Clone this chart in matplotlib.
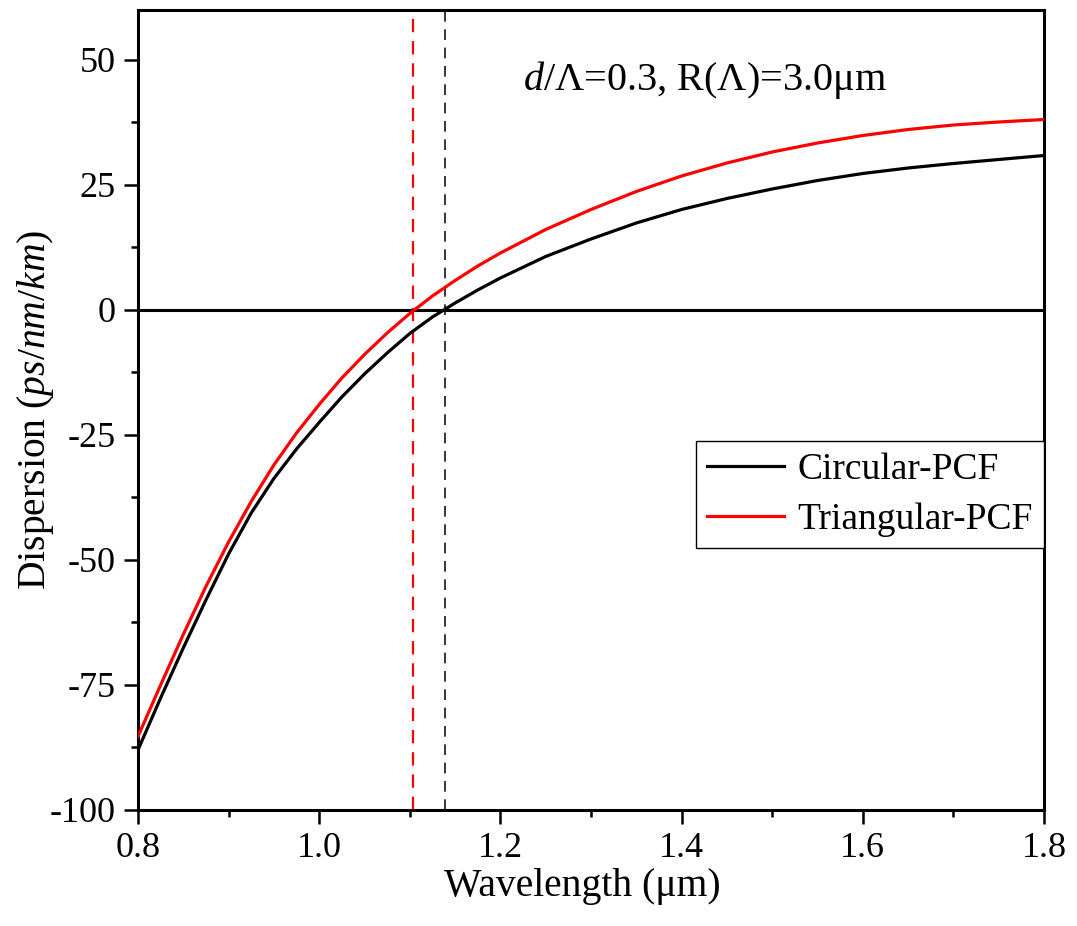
import matplotlib
matplotlib.use('Agg')
import matplotlib.pyplot as plt

plt.rcParams['font.family'] = ['Liberation Serif', 'DejaVu Serif']
plt.rcParams['mathtext.fontset'] = 'custom'
plt.rcParams['mathtext.rm'] = 'Liberation Serif'
plt.rcParams['mathtext.it'] = 'Liberation Serif:italic'
plt.rcParams['axes.unicode_minus'] = False

# Données
longueur_onde = [0.800, 0.825, 0.850, 0.875, 0.900, 0.925, 0.950, 0.975, 1.000, 1.025,
                 1.050, 1.075, 1.100, 1.125, 1.150, 1.175, 1.200, 1.250, 1.300, 1.350,
                 1.400, 1.450, 1.500, 1.550, 1.600, 1.650, 1.700, 1.750, 1.800]
disp_circulaire = [-88.0, -77.6, -67.6, -58.0, -48.8, -40.6, -33.7, -27.8, -22.5, -17.4,
                   -12.8, -8.6, -4.7, -1.4, 1.4, 4.0, 6.4, 10.7, 14.2, 17.4,
                   20.1, 22.3, 24.2, 25.9, 27.3, 28.4, 29.3, 30.1, 30.9]
disp_triangulaire = [-85.3, -75.0, -64.9, -55.3, -46.4, -38.3, -31.0, -24.6, -18.9, -13.6,
                     -8.9, -4.6, -0.7, 2.8, 5.9, 8.8, 11.4, 16.1, 20.1, 23.7,
                     26.8, 29.4, 31.6, 33.4, 34.9, 36.1, 37.0, 37.6, 38.1]
zdw_circulaire = 1.139
zdw_triangulaire = 1.104

fig = plt.figure(figsize=(10.77, 9.26), dpi=100)
ax = fig.add_axes([0.1281, 0.1253, 0.8413, 0.8639])

ax.axhline(0, color='black', lw=2.2, zorder=1)
ax.axvline(zdw_triangulaire, color='red', lw=1.6, ls=(0, (6, 4)), zorder=1)
ax.axvline(zdw_circulaire, color='black', lw=1.1, ls=(0, (7, 5)), zorder=1)

ax.plot(longueur_onde, disp_circulaire, color='black', lw=2.3, label='Circular-PCF', zorder=3)
ax.plot(longueur_onde, disp_triangulaire, color='red', lw=2.3, label='Triangular-PCF', zorder=3)

ax.set_xlim(0.8, 1.8)
ax.set_ylim(-100, 60)
ax.set_xticks([0.8, 1.0, 1.2, 1.4, 1.6, 1.8])
ax.set_xticks([0.9, 1.1, 1.3, 1.5, 1.7], minor=True)
ax.set_yticks([-100, -75, -50, -25, 0, 25, 50])
ax.set_yticks([-87.5, -62.5, -37.5, -12.5, 12.5, 37.5], minor=True)
ax.set_xticklabels(['0.8', '1.0', '1.2', '1.4', '1.6', '1.8'])

ax.tick_params(which='major', direction='out', length=10, width=1.8, labelsize=26, pad=6)
ax.tick_params(which='minor', direction='out', length=5, width=1.8)
for s in ax.spines.values():
    s.set_linewidth(2.2)

ax.set_xlabel('Wavelength (μm)', fontsize=28.5)
ax.xaxis.set_label_coords(0.49, -0.073)
ax.set_ylabel('Dispersion ($ps/nm/km$)', fontsize=28.5)
ax.yaxis.set_label_coords(-0.09, 0.5)

ax.text(1.426, 46, '$d$/Λ=0.3, R(Λ)=3.0μm', fontsize=29, ha='center', va='center')

leg = ax.legend(loc='center right', bbox_to_anchor=(1.0, 0.394), fontsize=27,
                frameon=True, fancybox=False, edgecolor='black', framealpha=1,
                borderaxespad=0, handlelength=2.05, handletextpad=0.35,
                borderpad=0.3, labelspacing=0.42)
leg.get_frame().set_linewidth(1.0)

fig.savefig('out.png', dpi=100)
